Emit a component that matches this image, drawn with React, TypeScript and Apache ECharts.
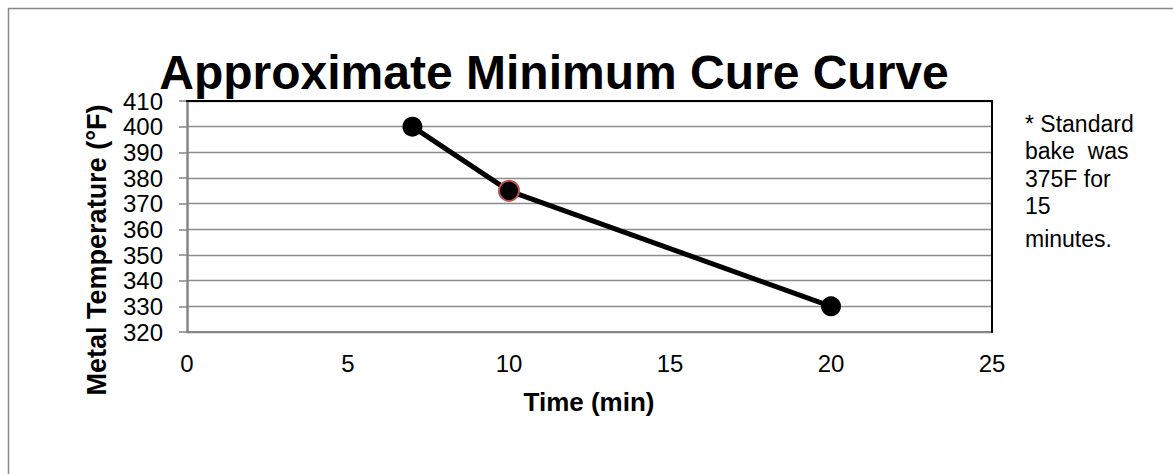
import React, { useEffect, useRef } from "react";
import * as echarts from "echarts";

const timeMin = [7, 10, 20];
const tempF = [400, 375, 330];
const highlightIndex = 1;
const xTicks = { min: 0, max: 25, interval: 5 };
const yTicks = { min: 320, max: 410, interval: 10 };
const titleText = "Approximate Minimum Cure Curve";
const xName = "Time (min)";
const yName = "Metal Temperature (°F)";
const noteLines = ["* Standard", "bake\u00a0 was", "375F for", "15", "minutes."];

const FONT = "'Liberation Sans', Arial, Helvetica, sans-serif";

export default function App() {
  const ref = useRef<HTMLDivElement>(null);
  useEffect(() => {
    document.body.style.margin = "0";
    const chart = echarts.init(ref.current!, null, { renderer: "svg" });
    const noteY = [123.7, 151.3, 179.3, 206, 238.7];
    const data = timeMin.map((t, i) => {
      const item: any = { value: [t, tempF[i]] };
      if (i === highlightIndex) {
        item.itemStyle = { color: "#000", borderColor: "#c0504d", borderWidth: 2 };
      }
      return item;
    });
    chart.setOption({
      animation: false,
      backgroundColor: "#fff",
      textStyle: { fontFamily: FONT },
      grid: { left: 187, right: 181, top: 101, bottom: 142, containLabel: false },
      xAxis: [
        {
          type: "value",
          min: xTicks.min,
          max: xTicks.max,
          interval: xTicks.interval,
          axisLine: { show: true, lineStyle: { color: "#868686", width: 2 } },
          axisTick: { show: false },
          splitLine: { show: false },
          axisLabel: { color: "#000", fontSize: 24, margin: 19, fontFamily: FONT },
        },
        {
          type: "value",
          position: "top",
          min: xTicks.min,
          max: xTicks.max,
          interval: xTicks.interval,
          z: 5,
          axisLine: { show: true, onZero: false, lineStyle: { color: "#000", width: 2 } },
          axisTick: { show: false },
          axisLabel: { show: false },
          splitLine: { show: false },
        },
      ],
      yAxis: [
        {
          type: "value",
          min: yTicks.min,
          max: yTicks.max,
          interval: yTicks.interval,
          axisLine: { show: true, lineStyle: { color: "#868686", width: 2.5 } },
          axisTick: { show: true, length: 8, lineStyle: { color: "#868686", width: 1.5 } },
          splitLine: { show: true, lineStyle: { color: "#8c8c8c", width: 1.4 } },
          axisLabel: { color: "#000", fontSize: 24, margin: 24, fontFamily: FONT },
        },
        {
          type: "value",
          position: "right",
          min: yTicks.min,
          max: yTicks.max,
          interval: yTicks.interval,
          z: 5,
          axisLine: { show: true, onZero: false, lineStyle: { color: "#000", width: 2 } },
          axisTick: { show: false },
          axisLabel: { show: false },
          splitLine: { show: false },
        },
      ],
      series: [
        {
          type: "line",
          data,
          xAxisIndex: 0,
          yAxisIndex: 0,
          symbol: "circle",
          symbolSize: 20,
          z: 10,
          lineStyle: { color: "#000", width: 5 },
          itemStyle: { color: "#000" },
        },
      ],
      graphic: [
        {
          type: "rect",
          shape: { x: 8.5, y: 8.5, width: 1300, height: 600 },
          style: { fill: "none", stroke: "#888", lineWidth: 1.5 },
          silent: true,
        },
        {
          type: "text",
          x: 554,
          y: 72,
          style: {
            text: titleText,
            font: `bold 48px ${FONT}`,
            fill: "#000",
            textAlign: "center",
            textVerticalAlign: "middle",
            verticalAlign: "middle",
          },
        },
        {
          type: "text",
          x: 589,
          y: 402,
          style: {
            text: xName,
            font: `bold 26px ${FONT}`,
            fill: "#000",
            textAlign: "center",
            verticalAlign: "middle",
          },
        },
        {
          type: "text",
          x: 97,
          y: 250,
          rotation: Math.PI / 2,
          style: {
            text: yName,
            font: `bold 27px ${FONT}`,
            fill: "#000",
            textAlign: "center",
            verticalAlign: "middle",
          },
        },
        ...noteLines.map((line, i) => ({
          type: "text",
          x: 1025,
          y: noteY[i],
          style: {
            text: line,
            font: `23px ${FONT}`,
            fill: "#000",
            textAlign: "left",
            verticalAlign: "middle",
          },
        })),
      ],
    });
    return () => chart.dispose();
  }, []);
  return <div ref={ref} style={{ width: 1173, height: 474 }} />;
}
